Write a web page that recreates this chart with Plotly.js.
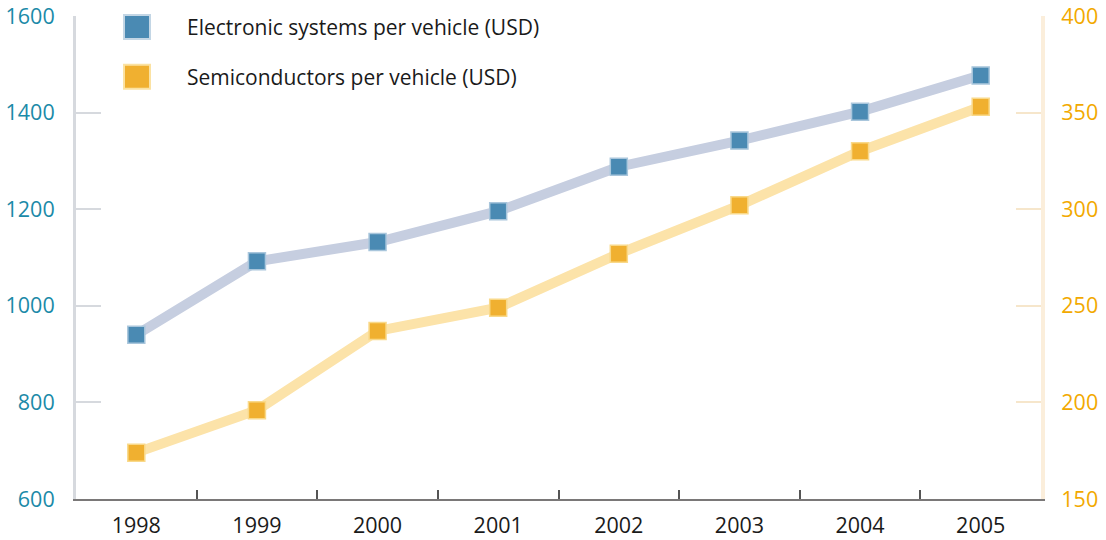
<!DOCTYPE html>
<html>
<head>
<meta charset="utf-8">
<script src="https://cdn.plot.ly/plotly-3.0.1.min.js"></script>
<style>html,body{margin:0;padding:0;background:#fff;}#chart{width:1106px;height:540px;}</style>
</head>
<body>
<div id="chart"></div>
<script>
const years = ["1998", "1999", "2000", "2001", "2002", "2003", "2004", "2005"];
const electronicUSD = [940, 1092, 1132, 1196, 1288, 1342, 1402, 1477];
const semiconductorUSD = [174, 196, 237, 249, 277, 302, 330, 353];
const seriesNames = ["Electronic systems per vehicle (USD)", "Semiconductors per vehicle (USD)"];
const leftTicks = [600, 800, 1000, 1200, 1400, 1600];
const rightTicks = [150, 200, 250, 300, 350, 400];

const FONT = "Open Sans, Noto Sans, sans-serif";
const blueMarker = "#4a8ab3", blueLine = "#c6cee0";
const goldMarker = "#f0b030", goldLine = "#fce3a9";

const traces = [
  {
    x: years, y: semiconductorUSD, yaxis: "y2", type: "scatter", mode: "lines+markers",
    name: seriesNames[1], showlegend: false, hoverinfo: "x+y",
    line: {color: goldLine, width: 10},
    marker: {symbol: "square", size: 17, color: goldMarker, line: {color: "#f9d98a", width: 1.5}}
  },
  {
    x: years, y: electronicUSD, yaxis: "y", type: "scatter", mode: "lines+markers",
    name: seriesNames[0], showlegend: false, hoverinfo: "x+y",
    line: {color: blueLine, width: 10},
    marker: {symbol: "square", size: 17, color: blueMarker, line: {color: "#a9c6dc", width: 1.5}}
  }
];

function legendSquare(yPaper, fill, border) {
  return {
    type: "rect", xref: "paper", yref: "paper",
    xsizemode: "pixel", ysizemode: "pixel",
    xanchor: 0.0632, yanchor: yPaper,
    x0: -13, x1: 13, y0: -12, y1: 12,
    fillcolor: fill, line: {color: border, width: 2}
  };
}

const layout = {
  width: 1106, height: 540,
  margin: {l: 76, r: 65, t: 16, b: 41},
  paper_bgcolor: "#ffffff", plot_bgcolor: "#ffffff",
  font: {family: FONT, size: 21, color: "#222"},
  showlegend: false,
  xaxis: {
    type: "category", range: [-0.5, 7.5], tickson: "boundaries",
    showline: true, linecolor: "#7a7878", linewidth: 2,
    ticks: "inside", ticklen: 9, tickwidth: 2, tickcolor: "#555",
    showgrid: false, zeroline: false, fixedrange: true,
    tickfont: {family: FONT, size: 21.5, color: "#1a1a1a"},
    ticklabelstandoff: 6
  },
  yaxis: {
    range: [600, 1600], tickvals: leftTicks, ticktext: leftTicks.map(String),
    showline: true, linecolor: "#d6d9de", linewidth: 3,
    ticks: "inside", ticklen: 25, tickwidth: 2, tickcolor: "#d6d9de",
    showgrid: false, zeroline: false,
    tickfont: {family: FONT, size: 21.5, color: "#1b8aa8"},
    ticklabelstandoff: 14
  },
  yaxis2: {
    range: [150, 400], tickvals: rightTicks, ticktext: rightTicks.map(String),
    overlaying: "y", side: "right",
    showline: true, linecolor: "#fbeedb", linewidth: 4,
    ticks: "inside", ticklen: 25, tickwidth: 2, tickcolor: "#f6e6cb",
    showgrid: false, zeroline: false,
    tickfont: {family: FONT, size: 21.5, color: "#f2a900"},
    ticklabelstandoff: 12
  },
  shapes: [
    legendSquare(0.977, blueMarker, "#c3d6e5"),
    legendSquare(0.874, goldMarker, "#fbe2a2")
  ],
  annotations: [
    {xref: "paper", yref: "paper", x: 0.113, y: 0.977, xanchor: "left", yanchor: "middle",
     text: seriesNames[0], showarrow: false, font: {family: FONT, size: 21, color: "#1a1a1a"}},
    {xref: "paper", yref: "paper", x: 0.113, y: 0.874, xanchor: "left", yanchor: "middle",
     text: seriesNames[1], showarrow: false, font: {family: FONT, size: 21, color: "#1a1a1a"}}
  ]
};

Plotly.newPlot("chart", traces, layout, {displayModeBar: false, staticPlot: true});
</script>
</body>
</html>
